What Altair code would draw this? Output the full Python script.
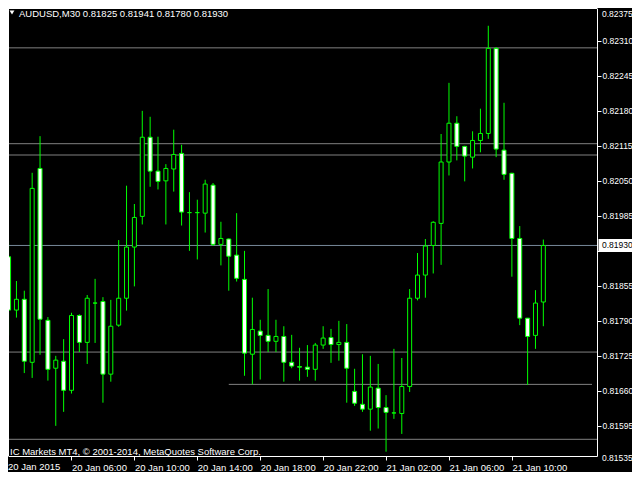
import altair as alt
import pandas as pd

# ---- data (AUDUSD, M30) ----
opens = [0.81909, 0.81810, 0.81830, 0.81713, 0.82073, 0.81791, 0.81702, 0.81715, 0.81661, 0.81800,
         0.81750, 0.81823, 0.81826, 0.81691, 0.81782, 0.81832, 0.81927, 0.81984, 0.82131, 0.82068,
         0.82050, 0.82072, 0.82101, 0.81991, 0.81991, 0.81990, 0.82042, 0.81932, 0.81942, 0.81912,
         0.81867, 0.81728, 0.81771, 0.81763, 0.81752, 0.81761, 0.81713, 0.81705, 0.81704, 0.81700,
         0.81745, 0.81759, 0.81746, 0.81750, 0.81659, 0.81635, 0.81626, 0.81665, 0.81629, 0.81619,
         0.81618, 0.81668, 0.81832, 0.81875, 0.81930, 0.81971, 0.82085, 0.82157, 0.82114, 0.82094,
         0.82125, 0.82138, 0.82296, 0.82107, 0.82064, 0.81943, 0.81795, 0.81763, 0.81825]
highs = [0.81938, 0.81864, 0.81846, 0.82065, 0.82133, 0.81797, 0.81725, 0.81756, 0.81805, 0.81802,
         0.81838, 0.81868, 0.81834, 0.81829, 0.81940, 0.82041, 0.82007, 0.82180, 0.82169, 0.82132,
         0.82081, 0.82145, 0.82117, 0.82029, 0.82015, 0.82052, 0.82046, 0.81974, 0.81943, 0.81990,
         0.81920, 0.81833, 0.81792, 0.81849, 0.81792, 0.81780, 0.81764, 0.81740, 0.81745, 0.81749,
         0.81780, 0.81775, 0.81790, 0.81784, 0.81701, 0.81728, 0.81725, 0.81710, 0.81652, 0.81738,
         0.81721, 0.81849, 0.81916, 0.81942, 0.81975, 0.82137, 0.82232, 0.82170, 0.82115, 0.82142,
         0.82184, 0.82338, 0.82298, 0.82195, 0.82065, 0.81966, 0.81795, 0.81847, 0.81941]
lows = [0.81763, 0.81796, 0.81693, 0.81684, 0.81727, 0.81679, 0.81595, 0.81621, 0.81655, 0.81732,
        0.81710, 0.81749, 0.81638, 0.81677, 0.81779, 0.81809, 0.81854, 0.81969, 0.82039, 0.82034,
        0.81969, 0.82030, 0.81967, 0.81920, 0.81904, 0.81954, 0.81929, 0.81893, 0.81846, 0.81863,
        0.81688, 0.81672, 0.81681, 0.81732, 0.81732, 0.81677, 0.81702, 0.81679, 0.81686, 0.81679,
        0.81738, 0.81712, 0.81716, 0.81638, 0.81632, 0.81621, 0.81586, 0.81590, 0.81547, 0.81608,
        0.81580, 0.81658, 0.81828, 0.81833, 0.81878, 0.81894, 0.82060, 0.82088, 0.82049, 0.82073,
        0.82103, 0.82128, 0.82094, 0.82052, 0.81872, 0.81782, 0.81671, 0.81738, 0.81780]
closes = [0.81810, 0.81830, 0.81715, 0.82036, 0.81793, 0.81700, 0.81717, 0.81661, 0.81800, 0.81750,
          0.81832, 0.81823, 0.81691, 0.81780, 0.81832, 0.81927, 0.81982, 0.82131, 0.82068, 0.82049,
          0.82073, 0.82099, 0.81992, 0.81991, 0.81991, 0.82044, 0.81932, 0.81943, 0.81910, 0.81869,
          0.81730, 0.81774, 0.81763, 0.81752, 0.81761, 0.81713, 0.81706, 0.81704, 0.81700, 0.81745,
          0.81758, 0.81746, 0.81750, 0.81702, 0.81637, 0.81626, 0.81667, 0.81629, 0.81620, 0.81619,
          0.81668, 0.81832, 0.81875, 0.81929, 0.81973, 0.82085, 0.82157, 0.82114, 0.82096, 0.82125,
          0.82138, 0.82296, 0.82109, 0.82062, 0.81943, 0.81795, 0.81761, 0.81823, 0.81930]

time_labels = ["20 Jan 2015", "20 Jan 06:00", "20 Jan 10:00", "20 Jan 14:00", "20 Jan 18:00",
               "20 Jan 22:00", "21 Jan 02:00", "21 Jan 06:00", "21 Jan 10:00"]
label_bars = [0, 8, 16, 24, 32, 40, 48, 56, 64]
price_ticks = [0.82310, 0.82245, 0.82180, 0.82115, 0.82050, 0.81985, 0.81920,
               0.81855, 0.81790, 0.81725, 0.81660, 0.81595]
hidden_tick = 0.81920          # covered by the current-price box
top_tick = ["0.82375"]
bottom_tick = [0.81535]
level_lines = [0.82297, 0.82119, 0.82098, 0.81732, 0.81570]
bid_price = [0.81930]
ray_price = [0.81672]
ray_start_bar = [28]
title_text = "AUDUSD,M30  0.81825 0.81941 0.81780 0.81930"
footer_text = "IC Markets MT4, \u00a9 2001-2014, MetaQuotes Software Corp."

# ---- layout / style ----
W, H = 589, 448
RP = 35
X_MIN, X_MAX = 0.5625, 74.1875
Y_MIN, Y_MAX = 0.81539, 0.82371
GREEN = "#00FF00"
GRAY = "#808080"
FONT = "Liberation Sans"
FS = 9.5
FSY = 8.5

n = len(opens)
bars = pd.DataFrame({
    "i": list(range(n)), "open": opens, "high": highs, "low": lows, "close": closes,
})
bars["dir"] = ["bull" if c >= o else "bear" for o, c in zip(opens, closes)]

xscale = alt.Scale(domain=[X_MIN, X_MAX], nice=False, zero=False)
yscale = alt.Scale(domain=[Y_MIN, Y_MAX], nice=False, zero=False)

labels_js = "[" + ",".join("'%s'" % t for t in time_labels) + "]"
x_axis = alt.Axis(values=label_bars[1:], labelExpr=labels_js + "[round(datum.value/8)]",
                  title=None, grid=False, domain=True, domainColor="white", ticks=True,
                  tickColor="white", tickSize=4, labelColor="white", labelFont=FONT,
                  labelFontSize=FS, labelAlign="left", labelBaseline="top", labelPadding=2,
                  labelFlush=False, labelOverlap=False, orient="bottom")
y_axis = alt.Axis(values=price_ticks,
                  labelExpr="abs(datum.value - %s) < 0.000001 ? '' : format(datum.value, '.5f')" % hidden_tick,
                  title=None, grid=False, domain=True,
                  domainColor="white", ticks=True, tickColor="white", tickSize=4,
                  labelColor="white", labelFont=FONT, labelFontSize=FSY, labelAlign="left",
                  labelBaseline="middle", labelPadding=1, labelFlush=False,
                  labelOverlap=False, orient="right")

X = lambda f: alt.X(f, type="quantitative", scale=xscale, axis=x_axis)
Y = lambda f: alt.Y(f, type="quantitative", scale=yscale, axis=y_axis)

one = pd.DataFrame({"k": [0]})

levels = alt.Chart(pd.DataFrame({"price": level_lines})).mark_rule(
    color=GRAY, strokeWidth=1).encode(y=Y("price"))

bid = alt.Chart(pd.DataFrame({"price": bid_price})).mark_rule(
    color="#778899", strokeWidth=1).encode(y=Y("price"))

ray = alt.Chart(pd.DataFrame({"start": ray_start_bar, "price": ray_price})).mark_rule(
    color=GRAY, strokeWidth=1).encode(x=X("start"), x2=alt.datum(X_MAX), y=Y("price"))

wicks = alt.Chart(bars).mark_rule(color=GREEN, strokeWidth=1).encode(
    x=X("i"), y=Y("low"), y2="high")

bodies = alt.Chart(bars).mark_bar(size=4, stroke=GREEN, strokeWidth=1).encode(
    x=X("i"), y=Y("open"), y2="close",
    fill=alt.Fill("dir:N", scale=alt.Scale(domain=["bull", "bear"], range=["#000000", "#FFFFFF"]),
                  legend=None))

frame_left = alt.Chart(one).mark_rule(color="white", strokeWidth=1).encode(x=alt.value(0.5))
frame_top = alt.Chart(one).mark_rule(color="white", strokeWidth=1).encode(y=alt.value(0.5))

tri = alt.Chart(one).mark_point(shape="triangle-down", filled=True, color="white",
                                size=24, opacity=1).encode(x=alt.value(4), y=alt.value(4.5))
title = alt.Chart(pd.DataFrame({"t": [title_text]})).mark_text(
    align="left", baseline="alphabetic", font=FONT, fontSize=FS, color="white").encode(
    x=alt.value(11), y=alt.value(9), text="t:N")
footer = alt.Chart(pd.DataFrame({"t": [footer_text]})).mark_text(
    align="left", baseline="alphabetic", font=FONT, fontSize=FS, color="white").encode(
    x=alt.value(2), y=alt.value(447), text="t:N")
first_label = alt.Chart(pd.DataFrame({"t": time_labels[:1]})).mark_text(
    align="left", baseline="top", font=FONT, fontSize=FS, color="white").encode(
    x=alt.value(0), y=alt.value(H + 6), text="t:N")
top_label = alt.Chart(pd.DataFrame({"t": top_tick})).mark_text(
    align="left", baseline="middle", font=FONT, fontSize=FSY, color="white").encode(
    x=alt.value(W + 5), y=alt.value(6), text="t:N")
low_label = alt.Chart(pd.DataFrame({"price": bottom_tick})).mark_text(
    align="left", baseline="middle", font=FONT, fontSize=FSY, color="white").encode(
    x=alt.value(W + 5), y=Y("price"), text=alt.Text("price:Q", format=".5f"))

box = alt.Chart(pd.DataFrame({"price": bid_price})).mark_rect(color="white", height=13).encode(
    x=alt.value(W + 1.5), x2=alt.value(W + RP), y=Y("price"))
box_text = alt.Chart(pd.DataFrame({"price": bid_price})).mark_text(
    align="left", baseline="middle", font=FONT, fontSize=FSY, color="black").encode(
    x=alt.value(W + 5), y=Y("price"), text=alt.Text("price:Q", format=".5f"))

chart = alt.layer(
    levels, bid, ray, wicks, bodies, frame_left, frame_top, tri, title, footer,
    first_label, top_label, low_label, box, box_text
).properties(
    width=W, height=H,
    autosize=alt.AutoSizeParams(type="none"),
    padding={"left": 0, "top": 0, "right": RP, "bottom": 16},
    background="black",
).configure_view(stroke=None, fill="black")

chart.save("out.html", embed_options={"renderer": "svg", "actions": False})
